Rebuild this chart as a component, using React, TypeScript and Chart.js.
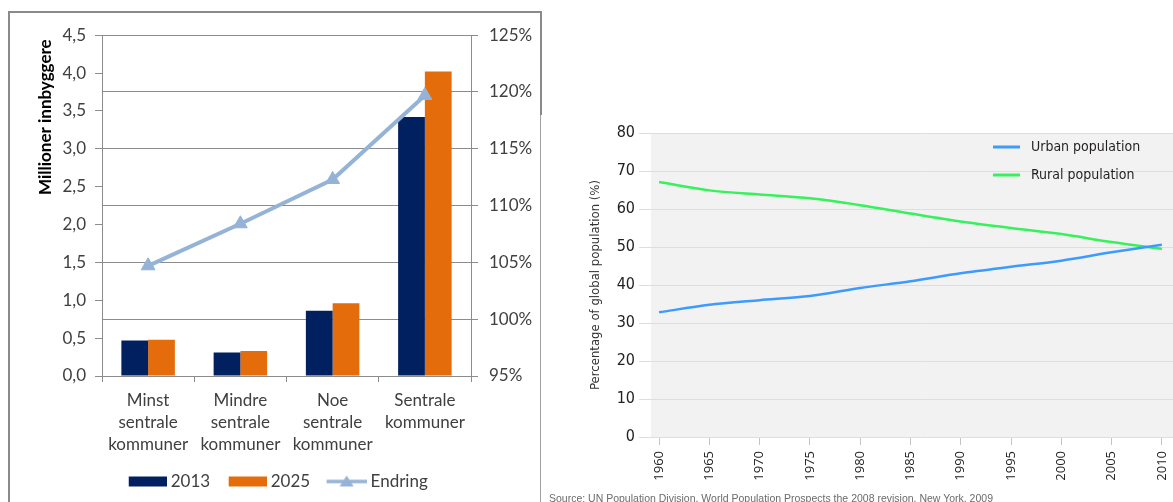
import React, { useEffect, useRef } from 'react';
import { Chart, registerables } from 'chart.js';

Chart.register(...registerables);

// Befolkning etter sentralitet (millioner innbyggere) og endring 2013–2025
const regionLabels = [
  ['Minst', 'sentrale', 'kommuner'],
  ['Mindre', 'sentrale', 'kommuner'],
  ['Noe', 'sentrale', 'kommuner'],
  ['Sentrale', 'kommuner'],
];
const residents2013 = [0.47, 0.31, 0.86, 3.42];
const residents2025 = [0.48, 0.33, 0.96, 4.02];
const changePct = [104.7, 108.4, 112.3, 119.7];

// Global urban / rural population shares (%)
const years = [1960, 1965, 1970, 1975, 1980, 1985, 1990, 1995, 2000, 2005, 2010];
const urbanShare = [32.8, 34.8, 36.0, 37.1, 39.2, 41.0, 43.1, 44.8, 46.4, 48.6, 50.6];
const ruralShare = [67.1, 64.9, 63.8, 62.8, 61.0, 58.8, 56.7, 55.0, 53.4, 51.3, 49.5];

const NAVY = '#002060';
const ORANGE = '#E46C0A';
const LIGHT_BLUE = '#95B3D7';
const URBAN = '#3d9bff';
const RURAL = '#35f25a';
const AXIS_GREY = '#8c8c8c';
const CALIBRI_LIKE = 'Lato, "Open Sans", sans-serif';
const NARROW = '"Liberation Sans Narrow", "DejaVu Sans Condensed", sans-serif';

function swatch(kind: 'box' | 'line', color: string): HTMLCanvasElement {
  const c = document.createElement('canvas');
  c.width = 51;
  c.height = 14;
  const g = c.getContext('2d')!;
  if (kind === 'box') {
    g.fillStyle = color;
    g.fillRect(13, 2, 38, 10);
  } else {
    g.strokeStyle = color;
    g.lineWidth = 3.5;
    g.beginPath();
    g.moveTo(11, 7);
    g.lineTo(51, 7);
    g.stroke();
    g.fillStyle = color;
    g.beginPath();
    g.moveTo(31, 1);
    g.lineTo(38, 12);
    g.lineTo(24, 12);
    g.closePath();
    g.fill();
  }
  return c;
}

function RegionChart() {
  const ref = useRef<HTMLCanvasElement>(null);
  useEffect(() => {
    const icons = [swatch('box', NAVY), swatch('box', ORANGE), swatch('line', LIGHT_BLUE)];
    const chart = new Chart(ref.current!, {
      type: 'bar',
      data: {
        labels: regionLabels,
        datasets: [
          {
            label: '2013',
            data: residents2013,
            backgroundColor: NAVY,
            yAxisID: 'y',
            order: 1,
            categoryPercentage: 0.58,
            barPercentage: 1,
          },
          {
            label: '2025',
            data: residents2025,
            backgroundColor: ORANGE,
            yAxisID: 'y',
            order: 1,
            categoryPercentage: 0.58,
            barPercentage: 1,
          },
          {
            type: 'line',
            label: 'Endring',
            data: changePct,
            yAxisID: 'y1',
            order: 0,
            borderColor: LIGHT_BLUE,
            backgroundColor: LIGHT_BLUE,
            borderWidth: 4,
            pointStyle: 'triangle',
            pointRadius: 8,
            pointBorderWidth: 1,
            tension: 0,
          } as any,
        ],
      },
      options: {
        responsive: false,
        animation: false,
        layout: { padding: { top: 19, left: 0, right: 0, bottom: 2 } },
        plugins: {
          tooltip: { enabled: false },
          legend: {
            position: 'bottom',
            labels: {
              usePointStyle: true,
              pointStyleWidth: 42,
              padding: 10,
              color: '#404040',
              font: { family: CALIBRI_LIKE, size: 17 },
              generateLabels: (c: any) =>
                c.data.datasets.map((ds: any, i: number) => ({
                  text: ds.label,
                  pointStyle: icons[i],
                  datasetIndex: i,
                  hidden: false,
                  lineWidth: 0,
                  fillStyle: 'transparent',
                  strokeStyle: 'transparent',
                  fontColor: '#404040',
                })),
            },
          },
        },
        scales: {
          x: {
            afterFit: (s: any) => {
              s.height = 87;
            },
            grid: { display: true, drawOnChartArea: false, offset: true, tickLength: 6, color: AXIS_GREY },
            border: { display: true, color: AXIS_GREY },
            ticks: {
              color: '#404040',
              padding: 7,
              font: { family: CALIBRI_LIKE, size: 17, lineHeight: 1.3 },
              maxRotation: 0,
              autoSkip: false,
            },
          },
          y: {
            position: 'left',
            min: 0,
            max: 4.5,
            afterFit: (s: any) => {
              s.width = 92;
            },
            grid: { display: true, drawOnChartArea: false, tickLength: 7, color: AXIS_GREY },
            border: { display: true, color: AXIS_GREY },
            ticks: {
              stepSize: 0.5,
              padding: 9,
              color: '#404040',
              font: { family: CALIBRI_LIKE, size: 17 },
              callback: (v: any) => Number(v).toFixed(1).replace('.', ','),
            },
            title: {
              display: true,
              text: 'Millioner innbyggere ',
              align: 'end',
              color: '#000',
              padding: { top: 25, bottom: 0 },
              font: { family: CALIBRI_LIKE, size: 17, weight: 'bold' },
            },
          },
          y1: {
            position: 'right',
            min: 95,
            max: 125,
            afterFit: (s: any) => {
              s.width = 67;
            },
            grid: { display: true, drawOnChartArea: true, tickLength: 7, color: AXIS_GREY },
            border: { display: true, color: AXIS_GREY },
            ticks: {
              stepSize: 5,
              padding: 11,
              color: '#404040',
              font: { family: CALIBRI_LIKE, size: 17 },
              callback: (v: any) => `${v}%`,
            },
          },
        },
      },
    } as any);
    return () => chart.destroy();
  }, []);
  return (
    <canvas
      ref={ref}
      width={528}
      height={488}
      style={{ position: 'absolute', left: 10, top: 14, width: 528, height: 488 }}
    />
  );
}

// Light grey plot background behind the grid
const plotShade = {
  id: 'plotShade',
  beforeDraw(chart: any) {
    const { ctx, chartArea } = chart;
    ctx.save();
    ctx.fillStyle = '#f2f2f2';
    ctx.fillRect(chartArea.left, chartArea.top, chartArea.right - chartArea.left, chartArea.bottom - chartArea.top);
    ctx.restore();
  },
};

// Line-sample key in the top right corner of the plot
const seriesKey = {
  id: 'seriesKey',
  afterDraw(chart: any) {
    const { ctx } = chart;
    chart.data.datasets.forEach((ds: any, i: number) => {
      const y = 37 + i * 28;
      ctx.save();
      ctx.strokeStyle = ds.borderColor;
      ctx.lineWidth = 3;
      ctx.beginPath();
      ctx.moveTo(433, y);
      ctx.lineTo(460, y);
      ctx.stroke();
      ctx.fillStyle = '#231f20';
      ctx.font = `14px ${NARROW}`;
      ctx.textBaseline = 'middle';
      ctx.textAlign = 'left';
      ctx.fillText(ds.label, 471, y);
      ctx.restore();
    });
  },
};

function PopulationChart() {
  const ref = useRef<HTMLCanvasElement>(null);
  useEffect(() => {
    const chart = new Chart(ref.current!, {
      type: 'line',
      data: {
        datasets: [
          {
            label: 'Urban population',
            data: years.map((x, i) => ({ x, y: urbanShare[i] })),
            borderColor: URBAN,
            borderWidth: 2.5,
            pointRadius: 0,
            tension: 0.3,
          },
          {
            label: 'Rural population',
            data: years.map((x, i) => ({ x, y: ruralShare[i] })),
            borderColor: RURAL,
            borderWidth: 2.5,
            pointRadius: 0,
            tension: 0.3,
          },
        ],
      },
      options: {
        responsive: false,
        animation: false,
        layout: { padding: { top: 23, left: 0, right: 10, bottom: 0 } },
        plugins: { legend: { display: false }, tooltip: { enabled: false } },
        scales: {
          x: {
            type: 'linear',
            min: 1959.2,
            max: 2012.8,
            afterFit: (s: any) => {
              s.height = 65;
            },
            afterBuildTicks: (s: any) => {
              s.ticks = years.map((value) => ({ value }));
            },
            grid: { display: true, drawOnChartArea: false, tickLength: 8, color: '#c4c4c4' },
            border: { display: false },
            ticks: {
              minRotation: 90,
              maxRotation: 90,
              padding: 6,
              color: '#222',
              autoSkip: false,
              font: { family: '"Open Sans", sans-serif', size: 13 },
              callback: (v: any) => String(v),
            },
          },
          y: {
            min: 0,
            max: 80,
            afterFit: (s: any) => {
              s.width = 91;
            },
            grid: { color: '#dedede', tickLength: 12 },
            border: { display: false },
            ticks: {
              stepSize: 10,
              padding: 4,
              color: '#222',
              font: { family: NARROW, size: 16 },
            },
            title: {
              display: true,
              text: 'Percentage of global population (%)',
              color: '#333',
              padding: { top: 28, bottom: 0 },
              font: { family: NARROW, size: 13 },
            },
          },
        },
      },
      plugins: [plotShade, seriesKey],
    } as any);
    return () => chart.destroy();
  }, []);
  return (
    <canvas
      ref={ref}
      width={640}
      height={392}
      style={{ position: 'absolute', left: 560, top: 110, width: 640, height: 392 }}
    />
  );
}

export default function App() {
  return (
    <div
      style={{
        position: 'fixed',
        left: 0,
        top: 0,
        width: 1173,
        height: 502,
        overflow: 'hidden',
        background: '#fff',
      }}
    >
      <div style={{ position: 'absolute', left: 8, top: 11, width: 534, height: 2, background: '#8a8a8a' }} />
      <div style={{ position: 'absolute', left: 8, top: 11, width: 2, height: 491, background: '#8a8a8a' }} />
      <div style={{ position: 'absolute', left: 540, top: 11, width: 2, height: 104, background: '#8a8a8a' }} />
      <div style={{ position: 'absolute', left: 540, top: 115, width: 1, height: 387, background: '#a0a0a0' }} />
      <RegionChart />
      <PopulationChart />
      <div
        style={{
          position: 'absolute',
          left: 549,
          top: 492,
          whiteSpace: 'nowrap',
          font: '10.5px "Liberation Sans", Arial, sans-serif',
          lineHeight: '12px',
          color: '#6b6b6b',
        }}
      >
        Source: UN Population Division, World Population Prospects the 2008 revision, New York, 2009
      </div>
    </div>
  );
}
